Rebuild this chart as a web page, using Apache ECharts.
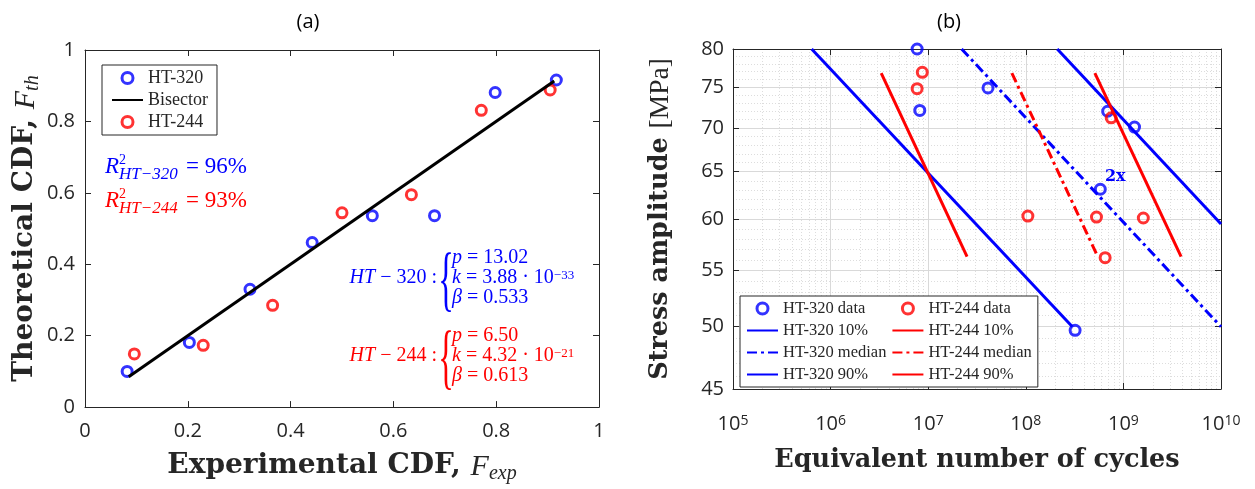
<!DOCTYPE html>
<html>
<head>
<meta charset="utf-8">
<script src="https://cdn.jsdelivr.net/npm/echarts@6/dist/echarts.min.js"></script>
<style>
  html, body { margin: 0; padding: 0; background: #fff; }
  #chart { width: 1255px; height: 489px; }
</style>
</head>
<body>
<div id="chart"></div>
<script>
// ---- (a) theoretical vs experimental CDF ----
const cdfBlue = [[0.082, 0.100], [0.203, 0.181], [0.321, 0.330], [0.442, 0.461],
                 [0.559, 0.536], [0.680, 0.536], [0.798, 0.881], [0.917, 0.916]];
const cdfRed = [[0.096, 0.149], [0.230, 0.173], [0.365, 0.285], [0.500, 0.544],
                [0.635, 0.595], [0.771, 0.831], [0.905, 0.888]];
const bisector = [[0.085, 0.085], [0.913, 0.913]];

// ---- (b) stress amplitude vs cycles ----
const snBlue = [[7.7e6, 80], [8.2e6, 72.1], [4.1e7, 74.9], [5.8e8, 63.1],
                [6.9e8, 72.0], [1.3e9, 70.1], [3.2e8, 49.7]];
const snRed = [[8.7e6, 76.9], [7.7e6, 74.8], [1.05e8, 60.3], [5.3e8, 60.2],
               [7.5e8, 71.2], [1.6e9, 60.1], [6.5e8, 56.2]];
const blue10 = [[6.4e5, 80], [3.0e8, 50]];
const blueMedian = [[2.2e7, 80], [1e10, 50]];
const blue90 = [[2.1e8, 80], [1e10, 59.5]];
const red10 = [[3.3e6, 76.8], [2.5e7, 56.3]];
const redMedian = [[7.2e7, 76.8], [5.4e8, 56.4]];
const red90 = [[5.1e8, 76.8], [3.9e9, 56.3]];
const twoXPoint = [5.8e8, 63.1];

const cycleTicks = [1e5, 1e6, 1e7, 1e8, 1e9, 1e10];
const stressTicks = [45, 50, 55, 60, 65, 70, 75, 80];

// minor grid positions (2..9 per decade, every 1 MPa)
const cycleMinor = [];
for (let d = 5; d < 10; d++) for (let m = 2; m <= 9; m++) cycleMinor.push(m * Math.pow(10, d));
const stressMinor = [];
for (let s = 46; s < 80; s++) if (s % 5 !== 0) stressMinor.push(s);

const INK = '#262626', BLUE = '#0000ff', RED = '#ff0000', NONE = 'rgba(0,0,0,0)';
const SANS = "'Open Sans', sans-serif";
const SERIF = "'Liberation Serif', serif";
const BOLD = "'DejaVu Serif', serif";

const LINE = { show: true, onZero: false, lineStyle: { color: INK, width: 1 } };
const TICK = { show: true, inside: true, length: 6, lineStyle: { color: INK } };
const tickFont = { fontFamily: SANS, fontSize: 20, color: INK };

function titleRich(size) {
  return {
    b: { fontFamily: BOLD, fontWeight: 'bold', fontSize: size, color: INK, lineHeight: 32, verticalAlign: 'top' },
    n: { fontFamily: SERIF, fontSize: size + 2, color: INK, lineHeight: 32, verticalAlign: 'top' },
    i: { fontFamily: SERIF, fontStyle: 'italic', fontSize: size + 2, color: INK, lineHeight: 32, verticalAlign: 'top' },
    s: { fontFamily: SERIF, fontStyle: 'italic', fontSize: 20, color: INK, lineHeight: 20,
         padding: [18, 0, 0, 0], verticalAlign: 'bottom' }
  };
}

const cdfAxis = { type: 'value', min: 0, max: 1, interval: 0.2 };
const cycAxis = { type: 'log', logBase: 10, min: 1e5, max: 1e10 };
const strAxis = { type: 'log', logBase: 10, min: 45, max: 80 };

const chart = echarts.init(document.getElementById('chart'));

function txt(x, y, text, style, extra) {
  return Object.assign({
    type: 'text', x: x, y: y, silent: true,
    style: Object.assign({ text: text, fill: INK, fontFamily: SERIF, fontSize: 18,
                           align: 'left', verticalAlign: 'middle' }, style)
  }, extra || {});
}

function paramRich(color) {
  return {
    i: { fill: color, fontFamily: SERIF, fontStyle: 'italic', fontSize: 20, lineHeight: 18, padding: [7, 0, 0, 0], verticalAlign: 'bottom' },
    n: { fill: color, fontFamily: SERIF, fontSize: 20, lineHeight: 18, padding: [7, 0, 0, 0], verticalAlign: 'bottom' },
    s: { fill: color, fontFamily: SERIF, fontSize: 13, lineHeight: 13, verticalAlign: 'top' }
  };
}

function paramBlock(label, lines, color, yMid) {
  const rich = paramRich(color);
  const out = [
    txt(437, yMid - 3.5, '{i|HT}{n| − ' + label + ' :}', { rich: rich, align: 'right' }),
    txt(446, yMid + 1, '{', { fill: color, fontSize: 72, align: 'center' }, { scaleX: 0.45 })
  ];
  lines.forEach(function (l, k) {
    out.push(txt(452, yMid - 20 + 20 * k - 3.5, l, { rich: rich }));
  });
  return out;
}

function r2Block(label, value, color, y) {
  return [
    txt(105, y, 'R', { fill: color, fontStyle: 'italic', fontSize: 23 }),
    txt(119, y - 7, '2', { fill: color, fontSize: 14 }),
    txt(119, y + 8, 'HT−' + label, { fill: color, fontStyle: 'italic', fontSize: 17 }),
    txt(186, y, '= ' + value, { fill: color, fontSize: 23 })
  ];
}

const graphics = [].concat(
  [txt(308, 22, '(a)', { fontFamily: SANS, fontSize: 20, fill: '#000', align: 'center' }),
   txt(949, 22, '(b)', { fontFamily: SANS, fontSize: 20, fill: '#000', align: 'center' })],
  r2Block('320', '96%', BLUE, 167),
  r2Block('244', '93%', RED, 201),
  paramBlock('320', ['{i|p}{n| = 13.02}', '{i|k}{n| = 3.88 · 10}{s|−33}', '{i|β}{n| = 0.533}'], BLUE, 282),
  paramBlock('244', ['{i|p}{n| = 6.50}', '{i|k}{n| = 4.32 · 10}{s|−21}', '{i|β}{n| = 0.613}'], RED, 360)
);

const openCircle = function (color) {
  return { color: NONE, borderColor: color, borderWidth: 3 };
};

function fitLine(name, data, color, dashed) {
  return { type: 'line', name: name, xAxisIndex: 3, yAxisIndex: 3, data: data, symbol: 'none',
    lineStyle: { color: color, width: 3, type: dashed ? [10, 4, 3, 4] : 'solid' },
    itemStyle: { color: NONE } };
}

const option = {
  animation: false,
  backgroundColor: '#fff',
  grid: [
    { left: 85, top: 50, width: 514, height: 358 },
    { left: 733, top: 49, width: 488, height: 340 }
  ],
  xAxis: [
    Object.assign({ gridIndex: 0, position: 'bottom', axisLine: LINE, axisTick: TICK,
      axisLabel: Object.assign({ margin: 14 }, tickFont), splitLine: { show: false },
      name: '{b|Experimental CDF, }{i|F}{s|exp}', nameLocation: 'middle', nameGap: 37,
      nameTextStyle: { rich: titleRich(28) } }, cdfAxis),
    Object.assign({ gridIndex: 0, position: 'top', axisLine: LINE, axisTick: TICK,
      axisLabel: { show: false }, splitLine: { show: false } }, cdfAxis),
    // minor grid for (b)
    Object.assign({ gridIndex: 1, position: 'bottom', axisLine: { show: false },
      axisTick: { show: false, customValues: cycleMinor }, axisLabel: { show: false },
      splitLine: { show: true, lineStyle: { color: '#dddddd', width: 1, type: [1, 2] } } }, cycAxis),
    Object.assign({ gridIndex: 1, position: 'bottom', axisLine: LINE,
      axisTick: Object.assign({ customValues: cycleTicks }, TICK),
      axisLabel: { customValues: cycleTicks, margin: 25,
        formatter: function (v) { return '{b|10}{s|' + Math.round(Math.log10(v)) + '}'; },
        rich: {
          b: { fontFamily: SANS, fontSize: 20, color: INK, lineHeight: 20, padding: [10, 0, 0, 0], verticalAlign: 'bottom' },
          s: { fontFamily: SANS, fontSize: 14, color: INK, lineHeight: 14, verticalAlign: 'top' }
        } },
      splitLine: { show: true, lineStyle: { color: '#d9d9d9', width: 1 } },
      name: 'Equivalent number of cycles', nameLocation: 'middle', nameGap: 58,
      nameTextStyle: { fontFamily: BOLD, fontWeight: 'bold', fontSize: 25.5, color: INK } }, cycAxis),
    Object.assign({ gridIndex: 1, position: 'top', axisLine: LINE,
      axisTick: Object.assign({ customValues: cycleTicks }, TICK),
      axisLabel: { show: false }, splitLine: { show: false } }, cycAxis)
  ],
  yAxis: [
    Object.assign({ gridIndex: 0, position: 'left', axisLine: LINE, axisTick: TICK,
      axisLabel: Object.assign({ margin: 10 }, tickFont), splitLine: { show: false },
      name: '{b|Theoretical CDF, }{i|F}{s|th}', nameLocation: 'middle', nameGap: 41, nameRotate: 90,
      nameTextStyle: { rich: titleRich(28) } }, cdfAxis),
    Object.assign({ gridIndex: 0, position: 'right', axisLine: LINE, axisTick: TICK,
      axisLabel: { show: false }, splitLine: { show: false } }, cdfAxis),
    Object.assign({ gridIndex: 1, position: 'left', axisLine: { show: false },
      axisTick: { show: false, customValues: stressMinor }, axisLabel: { show: false },
      splitLine: { show: true, lineStyle: { color: '#dddddd', width: 1, type: [1, 2] } } }, strAxis),
    Object.assign({ gridIndex: 1, position: 'left', axisLine: LINE,
      axisTick: Object.assign({ customValues: stressTicks }, TICK),
      axisLabel: Object.assign({ customValues: stressTicks, margin: 9 }, tickFont),
      splitLine: { show: true, lineStyle: { color: '#d9d9d9', width: 1 } },
      name: '{b|Stress amplitude }{n|[MPa]}', nameLocation: 'middle', nameGap: 54, nameRotate: 90,
      nameTextStyle: { rich: titleRich(25.5) } }, strAxis),
    Object.assign({ gridIndex: 1, position: 'right', axisLine: LINE,
      axisTick: Object.assign({ customValues: stressTicks }, TICK),
      axisLabel: { show: false }, splitLine: { show: false } }, strAxis)
  ],
  legend: [
    { orient: 'vertical', left: 102, top: 65, itemGap: 4, itemWidth: 31, itemHeight: 11,
      padding: [4, 9, 4, 9], borderColor: INK, borderWidth: 1, backgroundColor: '#fff',
      itemStyle: { borderWidth: 3 },
      textStyle: { fontFamily: SERIF, fontSize: 18, color: INK },
      data: ['HT-320', 'Bisector', 'HT-244'] },
    { orient: 'vertical', left: 740, top: 296, height: 90, itemGap: 5, itemWidth: 31, itemHeight: 11,
      padding: [4, 6, 4, 6], borderColor: INK, borderWidth: 1, backgroundColor: '#fff',
      itemStyle: { borderWidth: 3 },
      textStyle: { fontFamily: SERIF, fontSize: 16.5, lineHeight: 16, color: INK },
      data: ['HT-320 data', 'HT-320 10%', 'HT-320 median', 'HT-320 90%',
             'HT-244 data', 'HT-244 10%', 'HT-244 median', 'HT-244 90%'] }
  ],
  series: [
    { type: 'line', name: 'Bisector', xAxisIndex: 0, yAxisIndex: 0, data: bisector, symbol: 'none',
      lineStyle: { color: '#000', width: 3 }, itemStyle: { color: NONE } },
    { type: 'scatter', name: 'HT-320', xAxisIndex: 0, yAxisIndex: 0, data: cdfBlue,
      symbol: 'circle', symbolSize: 10, itemStyle: openCircle(BLUE) },
    { type: 'scatter', name: 'HT-244', xAxisIndex: 0, yAxisIndex: 0, data: cdfRed,
      symbol: 'circle', symbolSize: 10, itemStyle: openCircle(RED) },

    fitLine('HT-320 10%', blue10, BLUE, false),
    fitLine('HT-320 median', blueMedian, BLUE, true),
    fitLine('HT-320 90%', blue90, BLUE, false),
    fitLine('HT-244 10%', red10, RED, false),
    fitLine('HT-244 median', redMedian, RED, true),
    fitLine('HT-244 90%', red90, RED, false),
    { type: 'scatter', name: 'HT-320 data', xAxisIndex: 3, yAxisIndex: 3, data: snBlue,
      symbol: 'circle', symbolSize: 10, itemStyle: openCircle(BLUE),
      markPoint: { symbol: 'circle', symbolSize: 1, silent: true, itemStyle: { color: NONE },
        label: { show: true, formatter: '2x', position: 'top', distance: 4, offset: [15, 0],
                 fontFamily: BOLD, fontWeight: 'bold', fontSize: 16, color: BLUE },
        data: [{ coord: twoXPoint }] } },
    { type: 'scatter', name: 'HT-244 data', xAxisIndex: 3, yAxisIndex: 3, data: snRed,
      symbol: 'circle', symbolSize: 10, itemStyle: openCircle(RED) }
  ],
  graphic: graphics
};

chart.setOption(option);
</script>
</body>
</html>
